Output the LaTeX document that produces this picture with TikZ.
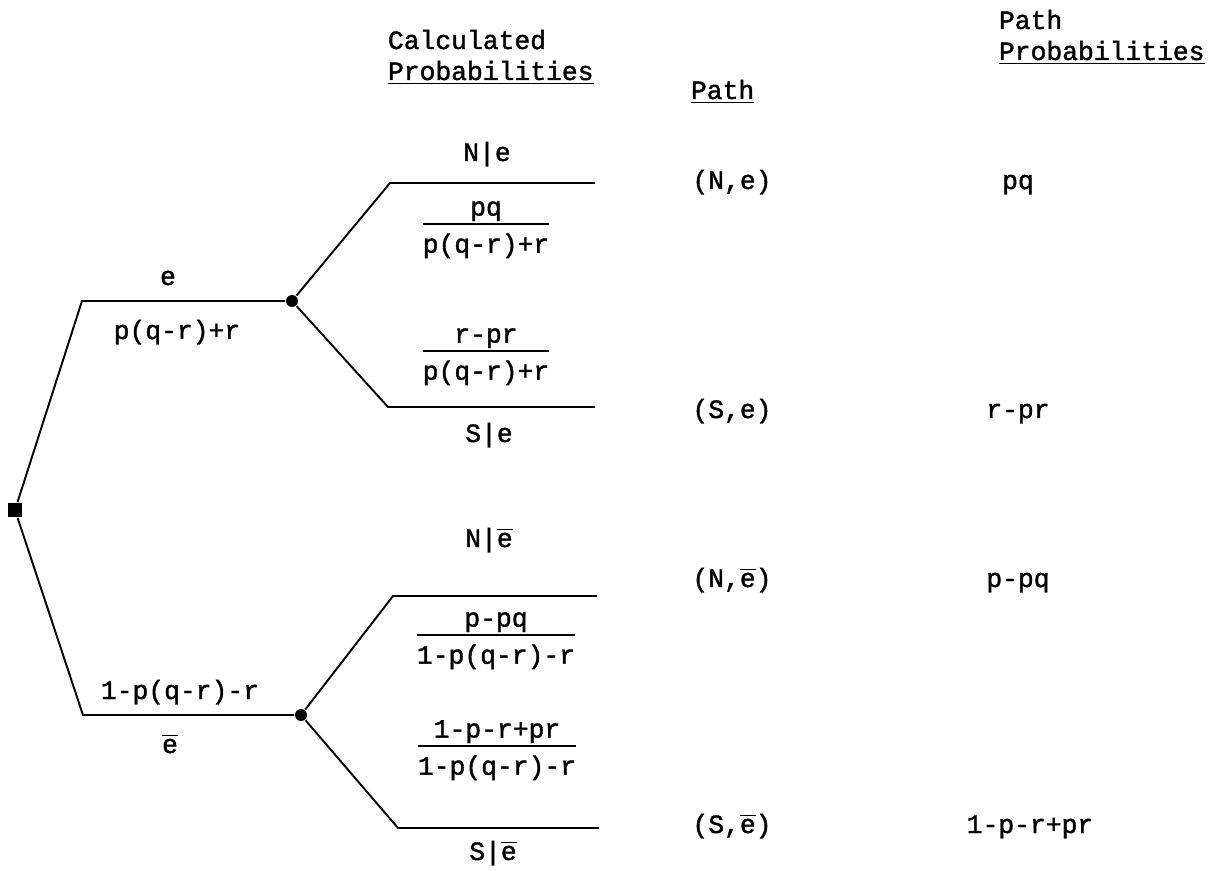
\documentclass[tikz,border=0pt]{standalone}
\usepackage{amsmath}
\usepackage{fontspec}
\setmainfont[FakeBold=1.5]{Liberation Mono}
\usetikzlibrary{positioning}

\newcommand{\ebar}{\ensuremath{\overline{\mbox{e}}}}
\newcommand{\pfrac}[2]{\ensuremath{\genfrac{}{}{1pt}{1}{\mbox{#1}}{\mbox{\rule{0pt}{15pt}#2}}}}

\begin{document}
\begin{tikzpicture}[x=0.02cm, y=-0.02cm, line width=1.1pt,
    font=\fontsize{15}{18}\selectfont,
    lbl/.style={anchor=base, inner sep=0pt},
    hdr/.style={anchor=base west, inner sep=0pt},
    chance/.style={circle, fill, inner sep=0pt, minimum size=0.24cm},
    decision/.style={rectangle, fill, inner sep=0pt, minimum size=0.28cm}]
  \useasboundingbox (0,0) rectangle (1211,871);

  % column headings
  \node[hdr] (hcalc)  at (387,49) {Calculated};
  \node[hdr] (hcprob) at (387,80) {\underline{Probabilities}};
  \node[hdr] (hpath)  at (690,99) {\underline{Path}};
  \node[hdr] (hppath) at (998,29) {Path};
  \node[hdr] (hpprob) at (998,60) {\underline{Probabilities}};

  % first stage: e / e-bar
  \node[decision] (root) at (15,510) {};
  \coordinate (eup) at (82,301);
  \coordinate (edn) at (83,715);
  \node[chance] (ce)  at (292,301) {};
  \node[chance] (ceb) at (301,715) {};
  \draw (root) -- (eup) -- (ce);
  \draw (root) -- (edn) -- (ceb);

  \node[lbl] (le)   at (168,285) {e};
  \node[lbl] (lpe)  at (177,339) {p(q-r)+r};
  \node[lbl] (lpeb) at (180,699) {1-p(q-r)-r};
  \node[lbl] (leb)  at (170,753) {\ebar};

  % second stage: N / S
  \coordinate (ne0) at (390,183); \coordinate (ne1) at (595,183);
  \coordinate (se0) at (388,407); \coordinate (se1) at (595,407);
  \coordinate (nb0) at (393,596); \coordinate (nb1) at (597,596);
  \coordinate (sb0) at (398,828); \coordinate (sb1) at (599,828);
  \foreach \c/\a/\b in {ce/ne0/ne1, ce/se0/se1, ceb/nb0/nb1, ceb/sb0/sb1} {
    \draw (\c) -- (\a) -- (\b);
  }

  % calculated (conditional) probabilities
  \node[lbl] (cne)  at (487,161) {N|e};
  \node[lbl] (fne)  at (486,230) {\pfrac{pq}{p(q-r)+r}};
  \node[lbl] (fse)  at (486,357) {\pfrac{r-pr}{p(q-r)+r}};
  \node[lbl] (cse)  at (489,442) {S|e};
  \node[lbl] (cneb) at (489,547) {N|\ebar};
  \node[lbl] (fneb) at (496,641) {\pfrac{p-pq}{1-p(q-r)-r}};
  \node[lbl] (fseb) at (497,752) {\pfrac{1-p-r+pr}{1-p(q-r)-r}};
  \node[lbl] (cseb) at (493,860) {S|\ebar};

  % paths and path probabilities
  \foreach \n/\y/\pth/\pp/\x in {1/189/{(N,e)}/pq/1018, 2/418/{(S,e)}/r-pr/1018,
      3/587/{(N,\ebar)}/p-pq/1018, 4/833/{(S,\ebar)}/1-p-r+pr/1030} {
    \node[lbl] (path\n) at (732,\y) {\pth};
    \node[lbl] (prob\n) at (\x,\y) {\pp};
  }
\end{tikzpicture}
\end{document}
